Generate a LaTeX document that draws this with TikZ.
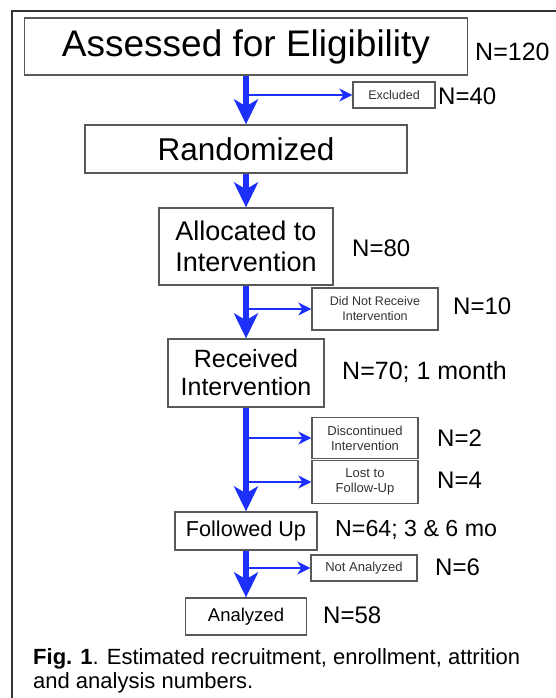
\documentclass[tikz,border=0pt]{standalone}
\usepackage{fontspec}
\setmainfont{Liberation Sans}
\usepackage{tikz}
\usetikzlibrary{arrows.meta, calc}

\definecolor{flowblue}{RGB}{28,48,250}

\begin{document}
\begin{tikzpicture}[
    x=1pt, y=-1pt,
    box/.style={draw=black!65, line width=1.3pt, fill=white, inner sep=0pt, align=center},
    smallbox/.style={box, text=black!80, font=\fontsize{12.5}{15}\selectfont},
    count/.style={anchor=west, inner sep=0pt, font=\fontsize{24}{26}\selectfont},
    mainarrow/.style={draw=flowblue, line width=6pt, -{Stealth[length=25pt, width=24pt, inset=7pt]}},
    sidearrow/.style={draw=flowblue, line width=2pt, -{Stealth[length=13pt, width=13pt, inset=4pt]}},
    frame/.style={draw=black!80, line width=1.2pt}
]

\useasboundingbox (0,0) rectangle (556,698);

% --- Frame (top and left edges only) ---
\draw[frame] (556,11) -- (12,11) -- (12,698);

% --- Main column of boxes ---
\node[box, minimum width=443pt, minimum height=57pt, font=\fontsize{37}{40}\selectfont] (assess) at (246,46.5) {Assessed for Eligibility};
\node[box, minimum width=322pt, minimum height=48pt, font=\fontsize{31.5}{34}\selectfont] (rand) at (246,149) {Randomized};
\node[box, minimum width=174pt, minimum height=77pt, font=\fontsize{27}{30.5}\selectfont] (alloc) at (246,246.5) {Allocated to\\Intervention};
\node[box, minimum width=156pt, minimum height=68pt, font=\fontsize{25}{28}\selectfont] (recv) at (246,373) {Received\\Intervention};
\node[box, minimum width=142pt, minimum height=38pt, font=\fontsize{21.6}{24}\selectfont] (foll) at (246,531) {Followed Up};
\node[box, minimum width=121pt, minimum height=37pt, font=\fontsize{18.5}{21}\selectfont] (anal) at (246,616.5) {Analyzed};

% --- Side boxes (drop-outs) ---
\node[smallbox, minimum width=82pt, minimum height=26pt, font=\fontsize{12.5}{15}\selectfont] (excl) at (394,95) {Excluded};
\node[smallbox, minimum width=126pt, minimum height=42pt] (dnr) at (375,309) {Did Not Receive\\Intervention};
\node[smallbox, minimum width=106pt, minimum height=41pt, font=\fontsize{13}{15}\selectfont] (disc) at (365,438) {Discontinued\\Intervention};
\node[smallbox, minimum width=106pt, minimum height=43pt, font=\fontsize{13}{15}\selectfont] (lost) at (365,482) {Lost to\\Follow-Up};
\node[smallbox, minimum width=106pt, minimum height=26pt, font=\fontsize{13}{15}\selectfont] (notan) at (364,568) {Not Analyzed};

% --- Counts ---
\node[count, font=\fontsize{25}{27}\selectfont] (n120) at (475,52) {N=120};
\node[count] (n40) at (438,96) {N=40};
\node[count] (n80) at (352,248) {N=80};
\node[count] (n10) at (453,306) {N=10};
\node[count, font=\fontsize{25}{27}\selectfont] (n70) at (342,372) {N=70; 1 month};
\node[count] (n2) at (437,438) {N=2};
\node[count] (n4) at (437,480) {N=4};
\node[count, font=\fontsize{23.2}{25}\selectfont] (n64) at (335,530) {N=64; 3 \& 6 mo};
\node[count] (n6) at (435,567) {N=6};
\node[count] (n58) at (323,615) {N=58};

% --- Branch points on the main flow ---
\coordinate (b1) at (246,95);
\coordinate (b2) at (246,309);
\coordinate (b3) at (246,438);
\coordinate (b4) at (246,482);
\coordinate (b5) at (246,568);

% --- Main flow ---
\draw[mainarrow] (assess.south) -- (rand.north);
\draw[mainarrow] (rand.south) -- (alloc.north);
\draw[mainarrow] (alloc.south) -- (recv.north);
\draw[mainarrow] (recv.south) -- (foll.north);
\draw[mainarrow] (foll.south) -- (anal.north);

% --- Drop-outs ---
\draw[sidearrow] (b1) -- (b1 -| excl.west);
\draw[sidearrow] (b2) -- (b2 -| dnr.west);
\draw[sidearrow] (b3) -- (b3 -| disc.west);
\draw[sidearrow] (b4) -- (b4 -| lost.west);
\draw[sidearrow] (b5) -- (b5 -| notan.west);

% --- Caption ---
\node[anchor=north west, align=left, inner sep=0pt, font=\fontsize{22}{24.5}\selectfont] (caption) at (33,648)
    {\textbf{Fig. 1}. Estimated recruitment, enrollment, attrition\\and analysis numbers.};

\end{tikzpicture}
\end{document}
